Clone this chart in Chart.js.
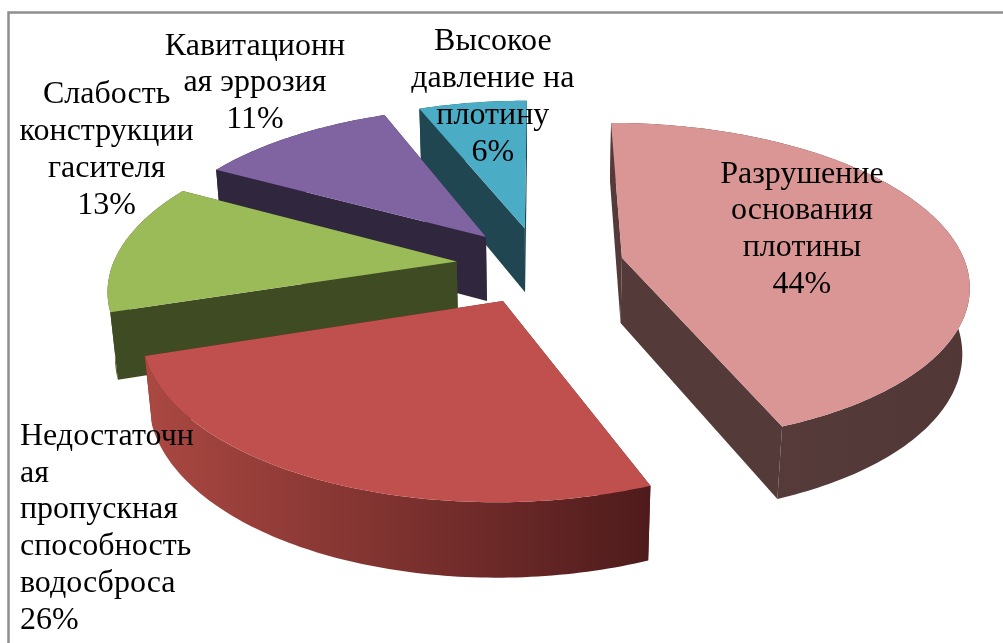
<!DOCTYPE html>
<html>
<head>
<meta charset="utf-8">
<script src="https://cdn.jsdelivr.net/npm/chart.js@4.4.0/dist/chart.umd.min.js"></script>
<style>
    body { margin: 0; background: #fff; }
    #wrap { width: 1003px; height: 643px; position: relative; overflow: hidden; }
    #wrap canvas { position: absolute; left: 0; top: 0; }
    .slice-label {
        position: absolute;
        font-family: "Liberation Serif", "Times New Roman", serif;
        font-size: 32px;
        line-height: 36.8px;
        color: #000;
        white-space: pre;
        pointer-events: none;
    }
</style>
</head>
<body>
<div id="wrap"><canvas id="damChart" width="1003" height="643"></canvas></div>
<script>
// data
const categories = [
    ["Разрушение", "основания", "плотины"],
    ["Недостаточн", "ая", "пропускная", "способность", "водосброса"],
    ["Слабость", "конструкции", "гасителя"],
    ["Кавитационн", "ая эррозия"],
    ["Высокое", "давление на", "плотину"]
];
const shares = [44, 26, 13, 11, 6];

const topColors = ["#D99694", "#C0504D", "#9BBB59", "#8064A2", "#4BACC6"];
const rimColors = [["#5A3E3E", "#523737"], ["#AB4842", "#4F1B1C"], ["#44512A", "#3C4721"], ["#352a43", "#2e253b"], ["#224B56", "#1D424C"]];
const wallColors = ["#553A3A", "#5A2020", "#3F4B22", "#30263E", "#1F4651"];

// label placement: first baseline relative to slice apex
const labelShift = [[180, -75], [-483, 144], [-350, -158], [-231, -182], [-32, -178]];
const labelAlign = ["center", "left", "center", "center", "center"];
const baselineDrop = 29.2; // first baseline below the top of a label box

// fake 3d view
const tilt = 27.3 * Math.PI / 180;
const focal = 1984;
const thick = 75;

function project(cx, cy, u, v, h) {
    const d = v * Math.cos(tilt) + h * Math.sin(tilt);
    const k = focal / (focal - d);
    return [cx + u * k, cy + (v * Math.sin(tilt) - h * Math.cos(tilt)) * k];
}

function fillPoly(ctx, pts, style) {
    ctx.beginPath();
    pts.forEach((p, i) => i ? ctx.lineTo(p[0], p[1]) : ctx.moveTo(p[0], p[1]));
    ctx.closePath();
    ctx.fillStyle = style;
    ctx.fill();
}

function sliceGeom(arc) {
    const mid = (arc.startAngle + arc.endAngle) / 2;
    const off = arc.options.offset || 0;
    return {
        cx: arc.x, cy: arc.y, r: arc.outerRadius,
        s: arc.startAngle, e: arc.endAngle,
        ou: off * Math.cos(mid), ov: off * Math.sin(mid)
    };
}

function rimPoints(g, h, reverse) {
    const n = Math.max(8, Math.ceil((g.e - g.s) / (Math.PI / 180)));
    const pts = [];
    for (let i = 0; i <= n; i++) {
        const a = g.s + (g.e - g.s) * (reverse ? n - i : i) / n;
        pts.push(project(g.cx, g.cy, g.ou + g.r * Math.cos(a), g.ov + g.r * Math.sin(a), h));
    }
    return pts;
}

function wallVisible(g, a, nu, nv) {
    const mu = g.ou + g.r / 2 * Math.cos(a);
    const mv = g.ov + g.r / 2 * Math.sin(a);
    const camV = focal * Math.cos(tilt);
    return nu * (0 - mu) + nv * (camV - mv) > 0;
}

function wallPoints(g, a) {
    const ru = g.ou + g.r * Math.cos(a), rv = g.ov + g.r * Math.sin(a);
    return [
        project(g.cx, g.cy, g.ou, g.ov, 0),
        project(g.cx, g.cy, ru, rv, 0),
        project(g.cx, g.cy, ru, rv, -thick),
        project(g.cx, g.cy, g.ou, g.ov, -thick)
    ];
}

const pie3d = {
    id: "pie3d",
    beforeDraw(chart) {
        const ctx = chart.ctx;
        ctx.save();
        ctx.strokeStyle = "#8f8f8f";
        ctx.lineWidth = 2.5;
        ctx.beginPath();
        ctx.moveTo(8.5, 700);
        ctx.lineTo(8.5, 12.5);
        ctx.lineTo(1100, 12.5);
        ctx.stroke();
        ctx.restore();
    },
    beforeDatasetsDraw(chart) {
        const ctx = chart.ctx;
        const arcs = chart.getDatasetMeta(0).data;
        const geoms = arcs.map(sliceGeom);
        const order = geoms.map((g, i) => i).sort((a, b) => geoms[a].ov - geoms[b].ov);
        ctx.save();
        order.forEach(i => {
            const g = geoms[i];
            const walls = [
                { a: g.s, nu: Math.sin(g.s), nv: -Math.cos(g.s) },
                { a: g.e, nu: -Math.sin(g.e), nv: Math.cos(g.e) }
            ];
            walls.forEach(w => w.vis = wallVisible(g, w.a, w.nu, w.nv));
            walls.filter(w => !w.vis).forEach(w => fillPoly(ctx, wallPoints(g, w.a), wallColors[i]));
            const rimTop = rimPoints(g, 0, false);
            const rimBot = rimPoints(g, -thick, true);
            const rim = rimTop.concat(rimBot);
            const xs = rim.map(p => p[0]);
            const grad = ctx.createLinearGradient(Math.min(...xs), 0, Math.max(...xs), 0);
            grad.addColorStop(0, rimColors[i][0]);
            grad.addColorStop(1, rimColors[i][1]);
            fillPoly(ctx, rim, grad);
            walls.filter(w => w.vis).forEach(w => fillPoly(ctx, wallPoints(g, w.a), wallColors[i]));
            const top = [project(g.cx, g.cy, g.ou, g.ov, 0)].concat(rimTop);
            fillPoly(ctx, top, topColors[i]);
        });
        ctx.restore();
        return false;
    },
    // labels as html text on top of the canvas, placed from the slice geometry
    afterDraw(chart) {
        const box = chart.canvas.parentNode;
        const arcs = chart.getDatasetMeta(0).data;
        arcs.forEach((arc, i) => {
            let el = document.getElementById("label" + i);
            if (!el) {
                el = document.createElement("div");
                el.id = "label" + i;
                el.className = "slice-label";
                box.appendChild(el);
            }
            el.textContent = categories[i].concat([shares[i] + "%"]).join("\n");
            const g = sliceGeom(arc);
            const apex = project(g.cx, g.cy, g.ou, g.ov, 0);
            const x = apex[0] + labelShift[i][0];
            el.style.top = (apex[1] + labelShift[i][1] - baselineDrop) + "px";
            el.style.textAlign = labelAlign[i];
            if (labelAlign[i] === "center") {
                el.style.left = (x - 150) + "px";
                el.style.width = "300px";
            } else {
                el.style.left = x + "px";
            }
        });
    }
};

new Chart(document.getElementById("damChart"), {
    type: "pie",
    data: {
        labels: categories,
        datasets: [{
            data: shares,
            backgroundColor: topColors,
            borderWidth: 0,
            offset: 84,
            clip: false
        }]
    },
    options: {
        responsive: false,
        animation: false,
        events: [],
        radius: 344,
        layout: { padding: { left: 77, right: 0, top: 0, bottom: 113 } },
        plugins: {
            legend: { display: false },
            tooltip: { enabled: false }
        }
    },
    plugins: [pie3d]
});
</script>
</body>
</html>
